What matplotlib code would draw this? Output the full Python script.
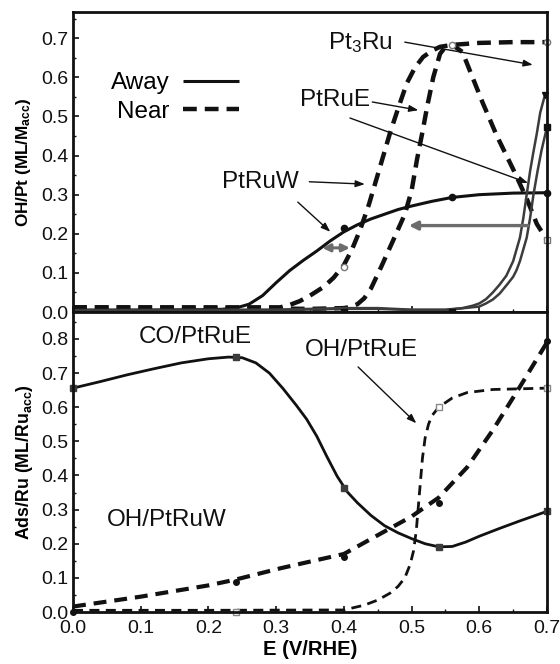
import matplotlib
matplotlib.use("Agg")
import matplotlib.pyplot as plt
from matplotlib.ticker import MultipleLocator

plt.rcParams['font.family'] = ['Liberation Sans', 'DejaVu Sans']
plt.rcParams['mathtext.fontset'] = 'custom'
plt.rcParams['mathtext.rm'] = 'Liberation Sans'
plt.rcParams['mathtext.bf'] = 'Liberation Sans:bold'
plt.rcParams['mathtext.it'] = 'Liberation Sans:italic'

# ---------------- upper panel: OH on Pt ----------------
ptruw_away_x = [0.0, 0.1, 0.2, 0.22, 0.24, 0.26, 0.28, 0.30, 0.32, 0.34, 0.36, 0.38, 0.40,
                0.42, 0.44, 0.46, 0.48, 0.50, 0.53, 0.56, 0.60, 0.65, 0.7]
ptruw_away_y = [0.005, 0.005, 0.006, 0.007, 0.01, 0.02, 0.042, 0.075, 0.106, 0.132, 0.156,
                0.182, 0.205, 0.223, 0.238, 0.25, 0.262, 0.271, 0.283, 0.293, 0.30, 0.304,
                0.305]

ptruw_near_x = [0.0, 0.1, 0.2, 0.26, 0.306, 0.32, 0.335, 0.35, 0.37, 0.385, 0.40, 0.412,
                0.424, 0.437, 0.449, 0.468, 0.48, 0.493, 0.505, 0.517, 0.53, 0.542, 0.56,
                0.6, 0.65, 0.7]
ptruw_near_y = [0.012, 0.012, 0.012, 0.012, 0.012, 0.018, 0.028, 0.042, 0.064, 0.088, 0.12,
                0.16, 0.21, 0.275, 0.345, 0.457, 0.52, 0.585, 0.625, 0.652, 0.668, 0.678,
                0.683, 0.688, 0.69, 0.69]

ptrue_near_x = [0.0, 0.2, 0.35, 0.40, 0.41, 0.42, 0.43, 0.44, 0.455, 0.473, 0.49, 0.50,
                0.508, 0.516, 0.523, 0.532, 0.542, 0.55, 0.56, 0.575, 0.59, 0.605, 0.626,
                0.65, 0.67, 0.685, 0.7]
ptrue_near_y = [0.012, 0.01, 0.008, 0.01, 0.013, 0.02, 0.035, 0.06, 0.115, 0.184, 0.25, 0.31,
                0.39, 0.46, 0.525, 0.60, 0.66, 0.678, 0.683, 0.665, 0.60, 0.535, 0.45,
                0.365, 0.29, 0.225, 0.184]

pt3ru_away_x = [0.0, 0.3, 0.4, 0.45, 0.5, 0.55, 0.575, 0.59, 0.60, 0.61, 0.62, 0.63, 0.64,
                0.65, 0.66, 0.665, 0.67, 0.675, 0.68, 0.685, 0.69, 0.697]
pt3ru_away_y = [0.005, 0.006, 0.01, 0.01, 0.006, 0.006, 0.01, 0.016, 0.022, 0.033, 0.05,
                0.07, 0.093, 0.13, 0.19, 0.24, 0.30, 0.36, 0.41, 0.457, 0.51, 0.555]

ptrue_away_x = [0.0, 0.3, 0.4, 0.45, 0.5, 0.55, 0.60, 0.61, 0.62, 0.63, 0.64, 0.65, 0.655,
                0.66, 0.665, 0.67, 0.675, 0.68, 0.686, 0.692, 0.7]
ptrue_away_y = [0.004, 0.005, 0.008, 0.008, 0.005, 0.005, 0.014, 0.022, 0.032, 0.047, 0.068,
                0.09, 0.107, 0.13, 0.16, 0.19, 0.24, 0.30, 0.36, 0.414, 0.473]

# measured points on the upper panel
ptruw_away_pts_x = [0.4, 0.56, 0.7]
ptruw_away_pts_y = [0.214, 0.295, 0.305]
ptruw_near_pts_x = [0.4, 0.56, 0.7]
ptruw_near_pts_y = [0.115, 0.683, 0.69]
ptrue_near_pts_x = [0.7]
ptrue_near_pts_y = [0.184]
away_base_pts_x = [0.4, 0.56]
away_base_pts_y = [0.0, 0.0]
pt3ru_away_pts_x = [0.697]
pt3ru_away_pts_y = [0.555]
ptrue_away_pts_x = [0.7]
ptrue_away_pts_y = [0.473]

# ---------------- lower panel: adsorbates on Ru ----------------
co_ptrue_x = [0.0, 0.04, 0.08, 0.12, 0.16, 0.20, 0.23, 0.25, 0.27, 0.29, 0.31, 0.33, 0.345,
              0.36, 0.375, 0.39, 0.405, 0.42, 0.44, 0.46, 0.48, 0.50, 0.52, 0.54, 0.56,
              0.58, 0.60, 0.63, 0.66, 0.7]
co_ptrue_y = [0.656, 0.675, 0.695, 0.713, 0.73, 0.742, 0.747, 0.745, 0.73, 0.70, 0.655,
              0.605, 0.565, 0.515, 0.455, 0.398, 0.352, 0.32, 0.283, 0.253, 0.232, 0.215,
              0.2, 0.191, 0.192, 0.205, 0.222, 0.245, 0.267, 0.295]

oh_ptruw_x = [0.0, 0.1, 0.2, 0.24, 0.306, 0.4, 0.45, 0.5, 0.54, 0.582, 0.62, 0.66, 0.7]
oh_ptruw_y = [0.016, 0.045, 0.078, 0.095, 0.128, 0.17, 0.225, 0.28, 0.335, 0.424, 0.533,
              0.66, 0.79]

oh_ptrue_x = [0.0, 0.2, 0.4, 0.43, 0.45, 0.468, 0.48, 0.49, 0.498, 0.503, 0.507, 0.51,
              0.513, 0.516, 0.52, 0.525, 0.53, 0.54, 0.56, 0.582, 0.62, 0.7]
oh_ptrue_y = [0.005, 0.005, 0.006, 0.02, 0.035, 0.055, 0.075, 0.1, 0.14, 0.18, 0.24, 0.31,
              0.38, 0.45, 0.51, 0.55, 0.575, 0.60, 0.627, 0.643, 0.652, 0.656]

co_pts_x = [0.0, 0.24, 0.4, 0.54, 0.7]
co_pts_y = [0.656, 0.747, 0.362, 0.19, 0.295]
oh_ptruw_pts_x = [0.0, 0.24, 0.4, 0.54, 0.7]
oh_ptruw_pts_y = [0.0, 0.087, 0.16, 0.318, 0.795]
oh_ptrue_pts_x = [0.24, 0.54, 0.7]
oh_ptrue_pts_y = [0.0, 0.60, 0.656]

top_yticks = [0.0, 0.1, 0.2, 0.3, 0.4, 0.5, 0.6, 0.7]
bot_yticks = [0.0, 0.1, 0.2, 0.3, 0.4, 0.5, 0.6, 0.7, 0.8]
xticks = [0.0, 0.1, 0.2, 0.3, 0.4, 0.5, 0.6, 0.7]

BLACK = '#111111'
DGRAY = '#3c3c3c'
AGRAY = '#6c6c6c'
LABEL_FS = 17.5

fig = plt.figure(figsize=(5.6, 6.64), dpi=100)
ax1 = fig.add_axes([0.1304, 0.5301, 0.8464, 0.4518])
ax2 = fig.add_axes([0.1304, 0.0783, 0.8464, 0.4518])

for ax in (ax1, ax2):
    ax.set_xlim(0.0, 0.7)
    for sp in ax.spines.values():
        sp.set_linewidth(2.0)
        sp.set_color(BLACK)
    ax.xaxis.set_minor_locator(MultipleLocator(0.05))
    ax.yaxis.set_minor_locator(MultipleLocator(0.05))
    ax.tick_params(which='major', direction='in', length=4, width=1.2, labelsize=14,
                   colors=BLACK, pad=3)
    ax.tick_params(which='minor', direction='in', length=2.5, width=1.0, colors=BLACK)

# upper panel curves
l_away, = ax1.plot(ptruw_away_x, ptruw_away_y, color=BLACK, lw=2.2, solid_capstyle='butt')
l_near, = ax1.plot(ptruw_near_x, ptruw_near_y, color=BLACK, lw=3.2, dashes=(3.1, 1.8))
ax1.plot(ptrue_near_x, ptrue_near_y, color=BLACK, lw=3.2, dashes=(3.1, 1.8))
ax1.plot(pt3ru_away_x, pt3ru_away_y, color=DGRAY, lw=1.8)
ax1.plot(ptrue_away_x, ptrue_away_y, color=DGRAY, lw=1.8)

ax1.plot(ptruw_away_pts_x, ptruw_away_pts_y, 'o', color=BLACK, ms=4.5, clip_on=False)
ax1.plot(ptruw_near_pts_x, ptruw_near_pts_y, 'o', mfc='white', mec='#777777', ms=4.5,
         mew=1.0, clip_on=False)
ax1.plot(ptrue_near_pts_x, ptrue_near_pts_y, 's', mfc='white', mec='#777777', ms=4.5,
         mew=1.0, clip_on=False)
ax1.plot(away_base_pts_x, away_base_pts_y, 's', color=BLACK, ms=4, clip_on=False)
ax1.plot(pt3ru_away_pts_x, pt3ru_away_pts_y, 'v', color=BLACK, ms=4, clip_on=False)
ax1.plot(ptrue_away_pts_x, ptrue_away_pts_y, 's', color=BLACK, ms=4, clip_on=False)

ax1.set_ylim(0.0, 0.767)
ax1.set_yticks(top_yticks)
ax1.set_yticklabels([f'{v:.1f}' for v in top_yticks])
ax1.set_xticks(xticks)
ax1.tick_params(axis='x', labelbottom=False)
ax1.set_ylabel('OH/Pt (ML/M$_{\\mathbf{acc}}$)', fontsize=12.3, fontweight='bold',
               labelpad=6)

ax1.legend([l_away, l_near], ['Away', 'Near'], loc='upper left',
           bbox_to_anchor=(0.08, 0.80), frameon=False, markerfirst=False,
           fontsize=LABEL_FS, handlelength=2.3, handletextpad=0.55, labelspacing=0.28,
           borderpad=0.0, borderaxespad=0.0)

lab = dict(fontsize=LABEL_FS, color=BLACK, ha='center', va='center')
thin = dict(arrowstyle='-|>,head_length=0.55,head_width=0.2', color=BLACK, lw=1.0,
            shrinkA=0, shrinkB=0)
ax1.text(0.425, 0.688, 'Pt$_3$Ru', **lab)
ax1.annotate('', xy=(0.679, 0.632), xytext=(0.49, 0.69), arrowprops=thin)
ax1.text(0.387, 0.542, 'PtRuE', **lab)
ax1.annotate('', xy=(0.51, 0.516), xytext=(0.442, 0.537), arrowprops=thin)
ax1.annotate('', xy=(0.672, 0.33), xytext=(0.409, 0.496), arrowprops=thin)
ax1.text(0.276, 0.332, 'PtRuW', **lab)
ax1.annotate('', xy=(0.431, 0.327), xytext=(0.349, 0.333), arrowprops=thin)
ax1.annotate('', xy=(0.38, 0.205), xytext=(0.332, 0.281), arrowprops=thin)

# gray shift arrows
ax1.annotate('', xy=(0.496, 0.221), xytext=(0.672, 0.221),
             arrowprops=dict(arrowstyle='-|>,head_length=0.5,head_width=0.25', color=AGRAY,
                             lw=2.4, shrinkA=0, shrinkB=0))
ax1.annotate('', xy=(0.409, 0.164), xytext=(0.368, 0.164),
             arrowprops=dict(arrowstyle='<|-|>,head_length=0.45,head_width=0.22',
                             color=AGRAY, lw=2.2, shrinkA=0, shrinkB=0))

# lower panel curves
ax2.plot(co_ptrue_x, co_ptrue_y, color=BLACK, lw=2.0)
ax2.plot(oh_ptruw_x, oh_ptruw_y, color=BLACK, lw=3.0, dashes=(3.1, 1.9))
ax2.plot(oh_ptrue_x, oh_ptrue_y, color=BLACK, lw=2.0, dashes=(3.6, 2.3))

ax2.plot(co_pts_x, co_pts_y, 's', color=DGRAY, ms=4, clip_on=False)
ax2.plot(oh_ptruw_pts_x, oh_ptruw_pts_y, 'o', color=BLACK, ms=4, clip_on=False)
ax2.plot(oh_ptrue_pts_x, oh_ptrue_pts_y, 's', mfc='white', mec='#888888', ms=4,
         mew=1.0, clip_on=False)

ax2.set_ylim(0.0, 0.879)
ax2.set_yticks(bot_yticks)
ax2.set_yticklabels([f'{v:.1f}' for v in bot_yticks])
ax2.set_xticks(xticks)
ax2.set_xticklabels([f'{v:.1f}' for v in xticks])
ax2.tick_params(axis='x', which='major', pad=6)
ax2.set_xlabel('E (V/RHE)', fontsize=14.5, fontweight='bold', labelpad=2)
ax2.set_ylabel('Ads/Ru (ML/Ru$_{\\mathbf{acc}}$)', fontsize=12.8, fontweight='bold',
               labelpad=5)

ax2.text(0.18, 0.806, 'CO/PtRuE', **lab)
ax2.text(0.05, 0.269, 'OH/PtRuW', fontsize=LABEL_FS, color=BLACK, ha='left', va='center')
ax2.text(0.426, 0.767, 'OH/PtRuE', **lab)
ax2.annotate('', xy=(0.507, 0.553), xytext=(0.421, 0.718), arrowprops=thin)

fig.savefig('out.png', dpi=100)
